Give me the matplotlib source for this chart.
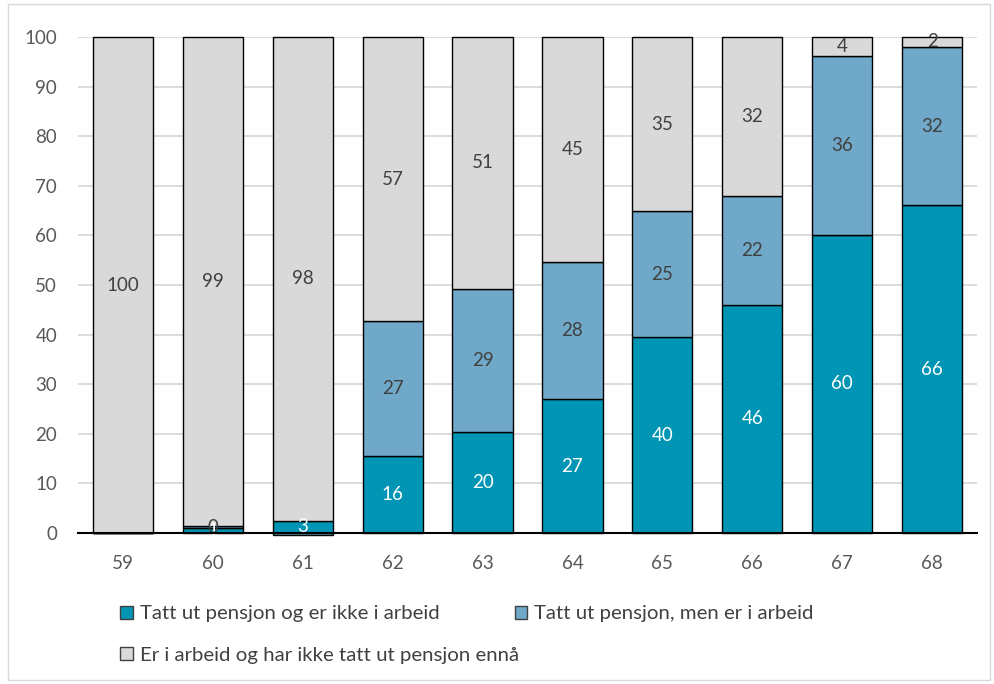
import matplotlib.pyplot as plt
from matplotlib.patches import Rectangle
import numpy as np

plt.rcParams['font.family'] = ['Lato', 'DejaVu Sans']

# Alder og andeler (prosent)
alder = ['59', '60', '61', '62', '63', '64', '65', '66', '67', '68']
ikke_arbeid = [0.0, 1.0, 2.5, 15.5, 20.4, 27.0, 39.5, 46.0, 60.1, 66.1]
i_arbeid = [0.0, 0.4, -0.4, 27.2, 28.8, 27.6, 25.4, 21.9, 36.1, 31.9]
ikke_tatt_ut = [100.0, 98.6, 97.5, 57.3, 50.8, 45.4, 35.1, 32.1, 3.8, 2.0]

serier = ['Tatt ut pensjon og er ikke i arbeid',
          'Tatt ut pensjon, men er i arbeid',
          'Er i arbeid og har ikke tatt ut pensjon ennå']
farger = ['#0095B4', '#6FA8C8', '#D9D9D9']
tekstfarger = ['white', '#404040', '#404040']

fig = plt.figure(figsize=(9.95, 6.84), dpi=100)
ax = fig.add_axes([78 / 995, 1 - 533 / 684, 899 / 995, 496 / 684])

x = np.arange(len(alder))
pos = np.zeros(len(alder))
neg = np.zeros(len(alder))
for verdier, farge, tf in zip([ikke_arbeid, i_arbeid, ikke_tatt_ut], farger, tekstfarger):
    verdier = np.array(verdier)
    bunn = np.where(verdier >= 0, pos, neg)
    ax.bar(x, verdier, bottom=bunn, width=0.67, color=farge,
           edgecolor='black', linewidth=1.0, zorder=3, clip_on=False)
    for xi, v, y0 in zip(x, verdier, bunn):
        if v > 0:
            ax.text(xi, y0 + v / 2, str(int(v + 0.5)), ha='center', va='center',
                    color=tf, fontsize=13.5, zorder=4)
    pos = pos + np.where(verdier >= 0, verdier, 0)
    neg = neg + np.where(verdier < 0, verdier, 0)

ax.set_xlim(-0.5, len(alder) - 0.5)
ax.set_ylim(0, 100)
ax.set_yticks(range(0, 101, 10))
ax.set_xticks(x)
ax.set_xticklabels(alder)
ax.tick_params(axis='both', length=0, labelsize=13.5, labelcolor='#595959')
ax.tick_params(axis='x', pad=16)
ax.tick_params(axis='y', pad=15)
ax.grid(axis='y', color='#D9D9D9', linewidth=1.3, zorder=0)
for s in ['top', 'right', 'left']:
    ax.spines[s].set_visible(False)
ax.spines['bottom'].set_color('black')
ax.spines['bottom'].set_linewidth(1.5)
ax.spines['bottom'].set_zorder(5)

handles = [Rectangle((0, 0), 1, 1, facecolor=f, edgecolor='#404040', linewidth=1.0)
           for f in farger]
rekkefolge = [0, 2, 1]
fig.legend([handles[i] for i in rekkefolge], [serier[i] for i in rekkefolge],
           ncol=2, loc='upper left', bbox_to_anchor=(106 / 995, 1 - 591 / 684),
           frameon=False, fontsize=14.7, labelcolor='#404040',
           handlelength=0.6, handleheight=0.6, handletextpad=0.35,
           columnspacing=-0.2, labelspacing=1.2, borderpad=0.2)

fig.patches.append(Rectangle((8 / 995, 4 / 684), 982 / 995, 676 / 684,
                             transform=fig.transFigure, fill=False,
                             edgecolor='#D9D9D9', linewidth=1.0))

fig.savefig('out.png', dpi=100)
